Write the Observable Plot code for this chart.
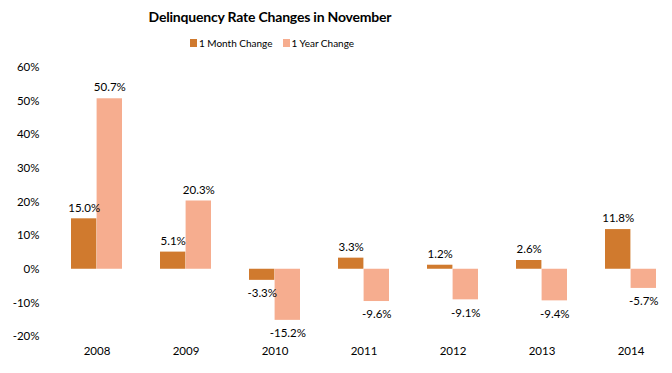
<!DOCTYPE html>
<html>
<head>
<meta charset="utf-8">
<script src="https://cdn.jsdelivr.net/npm/d3@7"></script>
<script src="https://cdn.jsdelivr.net/npm/@observablehq/plot@0.6"></script>
<style>
  body { margin: 0; background: #fff; font-family: Lato, "Noto Sans", sans-serif; }
  #wrap { width: 672px; height: 373px; position: relative; overflow: hidden; }
  #title { position: absolute; left: 0; width: 540px; top: 8px; text-align: center; font-weight: bold; font-size: 14px; letter-spacing: -0.2px; color: #000; }
  #legend { position: absolute; left: 0; width: 544px; top: 37px; text-align: center; font-size: 10px; color: #000; }
  #legend span.item { margin: 0 5px; }
  #legend span.sw { display: inline-block; width: 7px; height: 8px; margin-right: 2px; }
  #chart { position: absolute; left: 0; top: 54px; }
</style>
</head>
<body>
<div id="wrap">
  <div id="title">Delinquency Rate Changes in November</div>
  <div id="legend"></div>
  <div id="chart"></div>
</div>
<script>
const years = ["2008", "2009", "2010", "2011", "2012", "2013", "2014"];
const seriesNames = ["1 Month Change", "1 Year Change"];
const monthChange = [0.150, 0.051, -0.033, 0.033, 0.012, 0.026, 0.118];
const yearChange = [0.507, 0.203, -0.152, -0.096, -0.091, -0.094, -0.057];
const yTicks = [-0.2, -0.1, 0, 0.1, 0.2, 0.3, 0.4, 0.5, 0.6];
const colors = ["#d07a2e", "#f6ad8f"];

const rows = [];
years.forEach((y, i) => {
  rows.push({year: y, series: seriesNames[0], value: monthChange[i]});
  rows.push({year: y, series: seriesNames[1], value: yearChange[i]});
});
const month = rows.filter(d => d.series === seriesNames[0]);
const yearR = rows.filter(d => d.series === seriesNames[1]);

const half = 25.6;
const fmtTick = d => `${Math.round(d * 100)}%`;
const fmtLabel = d => `${(d * 100).toFixed(1)}%`;
const fs = 11.5;

const chart = Plot.plot({
  width: 672,
  height: 319,
  marginTop: 13,
  marginBottom: 37,
  marginLeft: 46,
  marginRight: 0,
  style: {fontFamily: "Lato, 'Noto Sans', sans-serif", fontSize: fs + "px", color: "#000", background: "#fff"},
  x: {domain: years, paddingInner: 0.427, paddingOuter: 0.21, align: 0.62, axis: null, label: null},
  y: {domain: [-0.2, 0.6], axis: null, label: null},
  marks: [
    Plot.barY(month, {x: "year", y: "value", fill: colors[0], insetRight: half}),
    Plot.barY(yearR, {x: "year", y: "value", fill: colors[1], insetLeft: half}),
    Plot.text(month.filter(d => d.value >= 0), {x: "year", y: "value", text: d => fmtLabel(d.value), dx: -half / 2, dy: -11, fill: "#000", fontSize: fs}),
    Plot.text(month.filter(d => d.value < 0), {x: "year", y: "value", text: d => fmtLabel(d.value), dx: -half / 2, dy: 13, fill: "#000", fontSize: fs}),
    Plot.text(yearR.filter(d => d.value >= 0), {x: "year", y: "value", text: d => fmtLabel(d.value), dx: half / 2, dy: -11, fill: "#000", fontSize: fs}),
    Plot.text(yearR.filter(d => d.value < 0), {x: "year", y: "value", text: d => fmtLabel(d.value), dx: half / 2, dy: 13, fill: "#000", fontSize: fs}),
    Plot.axisY(yTicks, {tickSize: 0, tickPadding: 7, tickFormat: fmtTick, fontSize: fs, fill: "#000", label: null}),
    Plot.axisX(years, {tickSize: 0, tickPadding: 10, fontSize: fs, fill: "#000", label: null})
  ]
});
document.getElementById("chart").appendChild(chart);

const legend = document.getElementById("legend");
seriesNames.forEach((name, i) => {
  const item = document.createElement("span");
  item.className = "item";
  const sw = document.createElement("span");
  sw.className = "sw";
  sw.style.background = colors[i];
  item.appendChild(sw);
  item.appendChild(document.createTextNode(name));
  legend.appendChild(item);
});
</script>
</body>
</html>
